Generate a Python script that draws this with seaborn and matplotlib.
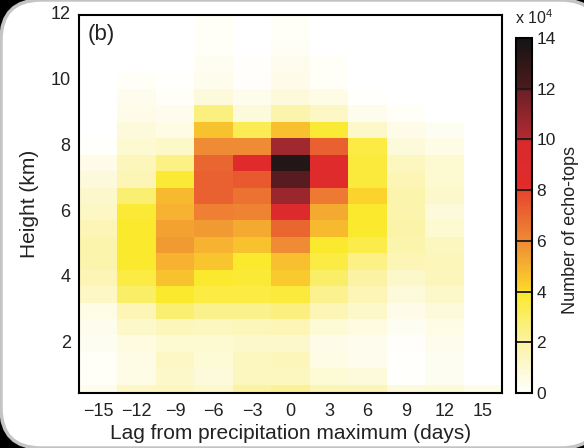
import numpy as np
import pandas as pd
import seaborn as sns
import matplotlib.pyplot as plt
from matplotlib.colors import LinearSegmentedColormap
from matplotlib.patches import FancyBboxPatch
from matplotlib.transforms import IdentityTransform

# echo-top counts (x 10^4), one list per lag bin, heights from 0.5 km up to 12 km
heights = [0.5, 1.0, 1.5, 2.0, 2.5, 3.0, 3.5, 4.0, 4.5, 5.0, 5.5, 6.0,
           6.5, 7.0, 7.5, 8.0, 8.5, 9.0, 9.5, 10.0, 10.5, 11.0, 11.5, 12.0]
lags = [-15, -12, -9, -6, -3, 0, 3, 6, 9, 12, 15]

lag_m15 = [0.4, 0.2, 0.2, 0.3, 0.4, 0.6, 1.3, 1.6, 1.8, 1.8, 1.6, 1.3,
           1.1, 0.8, 0.5, 0.1, 0, 0, 0, 0, 0, 0, 0, 0]
lag_m12 = [1.3, 0.6, 0.6, 0.7, 1.2, 1.6, 3.0, 3.6, 3.9, 3.9, 3.9, 3.8,
           2.8, 1.6, 1.5, 1.0, 0.8, 0.5, 0.4, 0.2, 0, 0, 0, 0]
lag_m9 = [1.4, 1.2, 1.3, 1.0, 1.5, 2.8, 3.9, 4.6, 5.0, 5.6, 5.4, 5.0,
          4.8, 3.8, 2.5, 1.2, 0.6, 0.4, 0.2, 0.1, 0, 0, 0, 0]
lag_m6 = [1.1, 0.8, 0.9, 1.0, 1.4, 2.4, 3.6, 3.9, 4.5, 5.0, 5.6, 6.3,
          7.2, 7.2, 7.0, 6.0, 4.6, 2.6, 0.8, 0.4, 0.3, 0.2, 0.2, 0.2]
lag_m3 = [2.0, 1.4, 1.4, 1.1, 1.5, 2.4, 3.6, 3.8, 3.9, 4.6, 5.2, 6.2,
          6.7, 7.4, 8.7, 6.0, 3.3, 0.8, 0.4, 0.15, 0.15, 0.05, 0, 0]
lag_0 = [2.2, 1.4, 1.5, 1.1, 1.6, 2.6, 3.7, 4.4, 4.7, 6.0, 7.0, 9.0,
         10.7, 12.0, 13.5, 10.5, 4.7, 1.8, 0.8, 0.5, 0.4, 0.25, 0.2, 0.2]
lag_p3 = [1.6, 0.9, 0.6, 0.5, 0.9, 1.6, 2.3, 3.0, 3.6, 3.9, 4.8, 5.2,
          6.5, 8.6, 8.8, 7.2, 3.8, 1.3, 0.6, 0.2, 0.2, 0, 0, 0]
lag_p6 = [1.6, 0.8, 0.4, 0.4, 0.7, 1.2, 1.6, 2.0, 2.5, 3.4, 3.9, 3.9,
          4.2, 3.7, 3.7, 3.6, 1.2, 0.4, 0.1, 0, 0, 0, 0, 0]
lag_p9 = [0.8, 0.1, 0.1, 0.15, 0.3, 0.5, 0.8, 1.2, 1.6, 1.8, 1.9, 1.8,
          1.8, 1.6, 1.4, 0.8, 0.5, 0.2, 0, 0, 0, 0, 0, 0]
lag_p12 = [0.9, 0.3, 0.3, 0.4, 0.6, 0.8, 1.2, 1.5, 1.5, 1.4, 1.0, 0.8,
           1.1, 1.0, 1.0, 0.6, 0.3, 0, 0, 0, 0, 0, 0, 0]
lag_p15 = [0.6, 0, 0, 0, 0, 0, 0, 0, 0, 0, 0, 0,
           0, 0, 0, 0, 0, 0, 0, 0, 0, 0, 0, 0]

x_ticks = [-15, -12, -9, -6, -3, 0, 3, 6, 9, 12, 15]
y_ticks = [2, 4, 6, 8, 10, 12]
cbar_ticks = [0, 2, 4, 6, 8, 10, 12, 14]

df = pd.DataFrame(
    dict(zip(lags, [lag_m15, lag_m12, lag_m9, lag_m6, lag_m3, lag_0,
                    lag_p3, lag_p6, lag_p9, lag_p12, lag_p15])),
    index=heights,
).sort_index(ascending=False)

# colour map (white -> yellow -> orange -> red -> black)
echo_cmap = LinearSegmentedColormap.from_list("echo", [
    (0.0, "#ffffff"),
    (2 / 14, "#fbf3a2"),
    (3.9 / 14, "#fbe92e"),
    (4.1 / 14, "#fcd52c"),
    (6 / 14, "#ef8a34"),
    (7.9 / 14, "#e6482e"),
    (8.1 / 14, "#e22b2b"),
    (9.9 / 14, "#d92a2c"),
    (10.1 / 14, "#b02a32"),
    (11.9 / 14, "#6e2026"),
    (12.1 / 14, "#4a1a1c"),
    (1.0, "#141414"),
])

sns.set_style("ticks")
plt.rcParams["font.family"] = ["Liberation Sans", "DejaVu Sans"]
plt.rcParams["mathtext.fontset"] = "custom"
plt.rcParams["mathtext.rm"] = "Liberation Sans"
plt.rcParams["axes.unicode_minus"] = True

fig = plt.figure(figsize=(5.84, 4.48), dpi=100, facecolor="black")

# rounded panel behind the plot
panel = FancyBboxPatch((1, 0), 600, 448, boxstyle="round,pad=0,rounding_size=40",
                       transform=IdentityTransform(), facecolor="white",
                       edgecolor="#c4c4c4", linewidth=2.5, zorder=-5)
fig.add_artist(panel)

ax = fig.add_axes([0.1353, 0.1228, 0.7243, 0.8438])
cax = fig.add_axes([0.8836, 0.1228, 0.0274, 0.7924])

sns.heatmap(df, ax=ax, cbar_ax=cax, cmap=echo_cmap, vmin=0, vmax=14)

# heatmap cells sit on integer positions; map lags / heights onto them
ax.set_xlim(0, len(lags))
ax.set_ylim(24.5 - 2 * 0.5, 24.5 - 2 * 12)
ax.set_xticks([(v + 16.5) / 3 for v in x_ticks])
ax.set_xticklabels([str(v).replace("-", "\u2212") for v in x_ticks], rotation=0)
ax.set_yticks([24.5 - 2 * v for v in y_ticks])
ax.set_yticklabels([str(v) for v in y_ticks], rotation=0)

for s in ax.spines.values():
    s.set_visible(True)
    s.set_linewidth(1.5)
    s.set_color("black")
ax.tick_params(direction="in", top=True, right=True, length=5, width=1.2,
               labelsize=13, labelcolor="#222222", color="black")
ax.tick_params(axis="x", pad=7)
ax.tick_params(axis="y", pad=6)

ax.set_xlabel("Lag from precipitation maximum (days)", fontsize=15,
              color="#222222", labelpad=3)
ax.set_ylabel("Height (km)", fontsize=15, color="#222222", labelpad=8)
ax.text(0.02, 0.975, "(b)", transform=ax.transAxes, ha="left", va="top",
        fontsize=16, color="#222222")

cbar = ax.collections[0].colorbar
cbar.set_ticks(cbar_ticks)
cbar.outline.set_linewidth(1.5)
cbar.outline.set_edgecolor("black")
cax.tick_params(length=0, labelsize=12.5, labelcolor="#222222", pad=3)
for v in cbar_ticks[1:-1]:
    cax.axhline(v, color="#1a1a1a", linewidth=1.3)
cbar.set_label("Number of echo-tops", fontsize=13, color="#222222")
cax.yaxis.set_label_coords(2.85, 0.46)
fig.text(515 / 584, 1 - 18 / 448, r"x 10$^{4}$", ha="left", va="center",
         fontsize=11.5, color="#222222")

fig.savefig("out.png", dpi=100, facecolor=fig.get_facecolor())
plt.close(fig)
